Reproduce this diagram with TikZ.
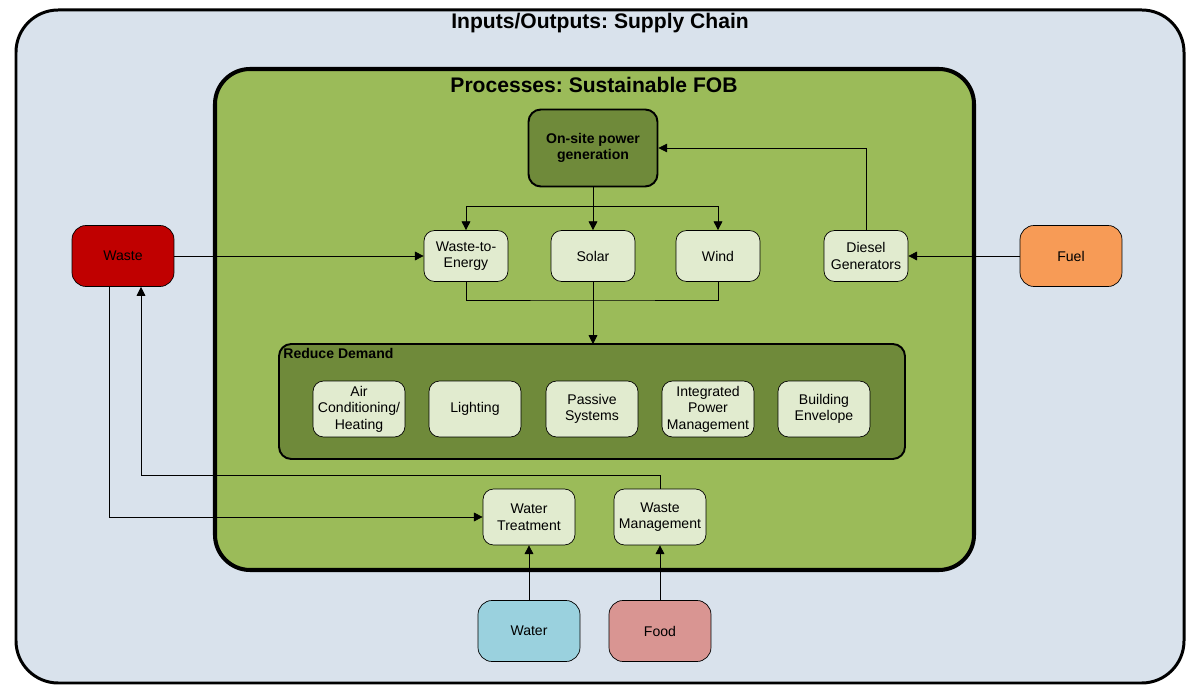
\documentclass[tikz,border=0pt]{standalone}
\usepackage{fontspec}
\setmainfont{Liberation Sans}
\usetikzlibrary{arrows.meta}
\frenchspacing

\definecolor{supplybg}{HTML}{D9E2EC}
\definecolor{fobgreen}{HTML}{9BBB59}
\definecolor{darkolive}{HTML}{6F8A3A}
\definecolor{paleolive}{HTML}{E1EBCF}
\definecolor{wastered}{HTML}{C00000}
\definecolor{fuelorange}{HTML}{F79B56}
\definecolor{waterblue}{HTML}{9AD1DE}
\definecolor{foodpink}{HTML}{D99592}

\tikzset{
  process/.style={draw, fill=paleolive, rounded corners=6pt, thin,
    minimum width=1.68cm, minimum height=1.02cm, align=center,
    inner sep=1pt, font=\fontsize{8}{9.4}\selectfont},
  demand/.style={process, minimum width=1.84cm, minimum height=1.12cm},
  supply/.style={draw, rounded corners=8pt, thin, minimum width=2.04cm,
    minimum height=1.22cm, align=center, font=\fontsize{8}{9.4}\selectfont},
  frametitle/.style={font=\fontsize{12}{14}\selectfont\bfseries},
  flow/.style={-{Triangle[length=5pt,width=5pt]}, thin},
  link/.style={thin}
}

\begin{document}
\begin{tikzpicture}[x=0.02cm, y=-0.02cm]
  \useasboundingbox (0,0) rectangle (1188,685);
  % frames
  \draw[line width=1.7pt, fill=supplybg, rounded corners=24pt] (16,10) rectangle (1184,683);
  \node[frametitle] (supplytitle) at (600,23) {Inputs/Outputs: Supply Chain};
  \draw[line width=2.3pt, fill=fobgreen, rounded corners=20pt] (215,69) rectangle (974,570);
  \node[frametitle] (fobtitle) at (594,85) {Processes: Sustainable FOB};
  \draw[line width=1.1pt, fill=darkolive, rounded corners=7pt] (279,344) rectangle (905,459);
  \node[anchor=north west, inner sep=0pt, font=\fontsize{8}{9.4}\selectfont\bfseries] (demandtitle) at (283,348) {Reduce Demand};

  % power generation
  \node[draw, line width=1.1pt, fill=darkolive, rounded corners=7pt, minimum width=2.58cm,
    minimum height=1.54cm, align=center, font=\fontsize{8}{9.4}\selectfont\bfseries]
    (power) at (593,148) {On-site power\\generation};
  \node[process] (wte)    at (466,256) {Waste-to-\\Energy};
  \node[process] (solar)  at (593,256) {Solar};
  \node[process] (wind)   at (718,256) {Wind};
  \node[process] (diesel) at (866,256) {Diesel\\Generators};

  % reduce demand
  \node[demand] (aircon)   at (359,409) {Air\\Conditioning/\\Heating};
  \node[demand] (lighting) at (475,409) {Lighting};
  \node[demand] (passive)  at (592,409) {Passive\\Systems};
  \node[demand] (ipm)      at (708,409) {Integrated\\Power\\Management};
  \node[demand] (envelope) at (824,409) {Building\\Envelope};

  % water and waste
  \node[demand] (treatment) at (529,517) {Water\\Treatment};
  \node[demand] (wastemgmt) at (660,517) {Waste\\Management};

  % supply chain inputs
  \node[supply, fill=wastered]   (waste) at (123,256) {Waste};
  \node[supply, fill=fuelorange] (fuel)  at (1071,256) {Fuel};
  \node[supply, fill=waterblue]  (water) at (529,631) {Water};
  \node[supply, fill=foodpink]   (food)  at (660,631) {Food};

  \coordinate (demandtop) at (593,344);

  % connectors
  \draw[flow] (power.south) |- (593,206) -| (wte.north);
  \draw[flow] (power.south) |- (593,206) -| (wind.north);
  \draw[flow] (power.south) -- (solar.north);
  \draw[link] (wte.south) |- (593,300) -| (wind.south);
  \draw[flow] (solar.south) -- (demandtop);
  \draw[flow] (diesel.north) |- (power.east);
  \draw[flow] (fuel.west) -- (diesel.east);
  \draw[flow] (waste.east) -- (wte.west);
  \draw[flow] (waste.south -| 109,0) |- (treatment.west);
  \draw[flow] (wastemgmt.north) |- (141,475) -- (141,287);
  \draw[flow] (water.north) -- (treatment.south);
  \draw[flow] (food.north) -- (wastemgmt.south);
\end{tikzpicture}
\end{document}
